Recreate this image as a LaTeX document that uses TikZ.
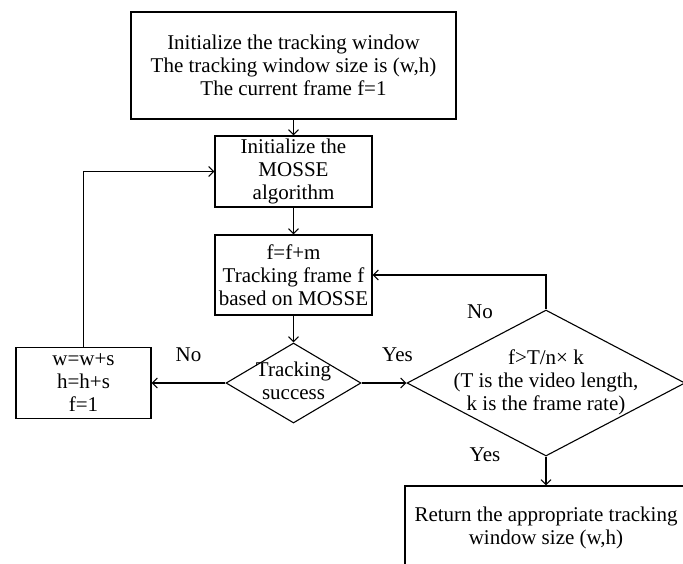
\documentclass[tikz,border=0pt]{standalone}
\usepackage{fontspec}
\setmainfont{Liberation Serif}
\usetikzlibrary{shapes.geometric,arrows.meta}

\tikzset{
  box/.style={draw, rectangle, align=center, inner sep=0pt, font=\fontsize{10.5}{11.5}\selectfont},
  decision/.style={draw, diamond, inner sep=0pt, font=\fontsize{10.5}{11.5}\selectfont},
  lbl/.style={font=\fontsize{10.5}{11.5}\selectfont}
}
% text of a diamond, kept out of its size
\newcommand{\flattext}[1]{\makebox[0pt]{\begin{tabular}{@{}c@{}}#1\end{tabular}}}

\begin{document}
\begin{tikzpicture}[x=0.5pt, y=-0.5pt, line width=0.55pt, >={Straight Barb[length=2.5pt,width=5pt]}]
  \useasboundingbox (0,0) rectangle (683,563);
  \clip (0,0) rectangle (683,563);
  % steps
  \node[box, minimum width=162.5pt, minimum height=53.5pt] (win) at (293.5,65.5) {Initialize the tracking window\\The tracking window size is (w,h)\\The current frame f=1};
  \node[box, minimum width=78.5pt, minimum height=35.5pt] (mosse) at (293.5,171.5) {Initialize the\\MOSSE\\algorithm};
  \node[box, minimum width=78.5pt, minimum height=40pt] (track) at (293.5,275) {f=f+m\\Tracking frame f\\based on MOSSE};
  \node[box, minimum width=67.5pt, minimum height=35.5pt] (resize) at (83.5,383) {w=w+s\\h=h+s\\f=1};
  \node[decision, minimum width=67.5pt, minimum height=40pt] (succ) at (293.5,383) {\flattext{Tracking\\success}};
  \node[decision, minimum width=139pt, minimum height=73pt] (check) at (546,383) {\flattext{f>T/n× k\\(T is the video length,\\k is the frame rate)}};
  \node[box, minimum width=141pt, minimum height=41.5pt] (result) at (546,527.5) {Return the appropriate tracking\\window size (w,h)};
  % arrows
  \draw[->] (win) -- (mosse);
  \draw[->] (mosse) -- (track);
  \draw[->] (track) -- (succ);
  \draw[->] (succ) -- node[lbl, above=7pt] {No} (resize);
  \draw[->] (resize) |- (mosse);
  \draw[->] (succ) -- node[lbl, pos=0.8, above=7pt] {Yes} (check);
  \draw[->] (check) |- (track);
  \draw[->] (check) -- (result);
  \node[lbl] (no2) at (480,312) {No};
  \node[lbl] (yes2) at (485,455) {Yes};
\end{tikzpicture}
\end{document}
